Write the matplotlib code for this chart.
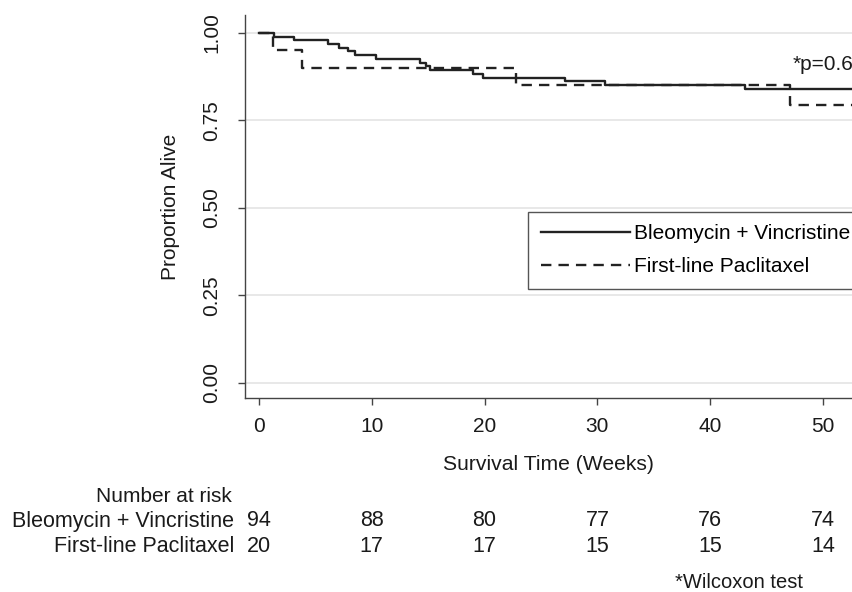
import matplotlib
matplotlib.use("Agg")
import matplotlib.pyplot as plt
from matplotlib.transforms import blended_transform_factory

plt.rcParams["font.family"] = ["Liberation Sans", "DejaVu Sans"]

# ---- data ----
bv_label = "Bleomycin + Vincristine"
bv_times = [0, 1.3, 3.1, 6.1, 7.1, 7.9, 8.5, 10.4, 14.3, 14.8, 15.2, 19.0, 19.9, 27.1, 30.7, 43.1, 56]
bv_surv = [1.0, 0.989, 0.979, 0.968, 0.957, 0.947, 0.936, 0.926, 0.915, 0.904, 0.894, 0.883, 0.872, 0.862, 0.851, 0.840, 0.840]

fp_label = "First-line Paclitaxel"
fp_times = [0, 1.2, 3.8, 22.8, 47.1, 56]
fp_surv = [1.0, 0.95, 0.90, 0.85, 0.793, 0.793]

x_ticks = [0, 10, 20, 30, 40, 50]
y_ticks = [0.00, 0.25, 0.50, 0.75, 1.00]
y_tick_labels = ["0.00", "0.25", "0.50", "0.75", "1.00"]

risk_times = [0, 10, 20, 30, 40, 50]
bv_risk = [94, 88, 80, 77, 76, 74]
fp_risk = [20, 17, 17, 15, 15, 14]

p_text = "*p=0.6"
# ---------------

W, H = 853, 592
fig = plt.figure(figsize=(W / 100, H / 100), dpi=100)
fig.patch.set_facecolor("white")
TXT = "#1a1a1a"

ax_left_px, ax_right_px, ax_top_px, ax_bot_px = 245, 879.4, 15, 398
ax_w_px = ax_right_px - ax_left_px
ax_h_px = ax_bot_px - ax_top_px
ax = fig.add_axes([ax_left_px / W, 1 - ax_bot_px / H, ax_w_px / W, ax_h_px / H])
ax.set_xlim(-1.24, 55)
ax.set_ylim(-0.043, 1.051)

for y in y_ticks:
    ax.axhline(y, color="#e8e8e8", lw=1.4, zorder=0)

ax.plot(bv_times, bv_surv, drawstyle="steps-post", color="#222222", lw=1.7, label=bv_label)
ax.plot(fp_times, fp_surv, drawstyle="steps-post", color="#222222", lw=1.7,
        dashes=(4.4, 3.0), label=fp_label)

for s in ["top", "right"]:
    ax.spines[s].set_visible(False)
for s in ["left", "bottom"]:
    ax.spines[s].set_color("#444444")
    ax.spines[s].set_linewidth(1.0)

ax.set_xticks(x_ticks)
ax.set_xticklabels([str(v) for v in x_ticks], fontsize=15)
ax.set_yticks(y_ticks)
ax.set_yticklabels(y_tick_labels, fontsize=15, rotation=90, va="center")
ax.tick_params(axis="both", colors="#444444", labelcolor=TXT, length=5, width=1.0)
ax.tick_params(axis="x", pad=9)
ax.tick_params(axis="y", pad=12)

ax.set_ylabel("Proportion Alive", fontsize=15, color=TXT)
ax.yaxis.set_label_coords(-(ax_left_px - 180) / ax_w_px, (ax_bot_px - 207) / ax_h_px)
ax.set_xlabel("Survival Time (Weeks)", fontsize=15.2, color=TXT)
ax.xaxis.set_label_coords((548 - ax_left_px) / ax_w_px, -(465 - ax_bot_px) / ax_h_px)
ax.xaxis.label.set_va("center")

leg = ax.legend(loc="upper left", bbox_to_anchor=((528 - ax_left_px) / ax_w_px,
                                                  (ax_bot_px - 212) / ax_h_px),
                borderaxespad=0, fontsize=15, handlelength=4.3, handletextpad=0.2,
                labelspacing=0.65, borderpad=0.6, fancybox=False, framealpha=1,
                edgecolor="#555555")
leg.get_frame().set_linewidth(1.0)

fig.text(793 / W, 1 - 64 / H, p_text, fontsize=15, va="center", ha="left", color=TXT)

# risk table
tr = blended_transform_factory(ax.transData, fig.transFigure)
fig.text(232 / W, 1 - 497 / H, "Number at risk", fontsize=15, ha="right", va="center", color=TXT)
fig.text(234 / W, 1 - 521 / H, bv_label, fontsize=15.5, ha="right", va="center", color=TXT)
fig.text(234 / W, 1 - 547 / H, fp_label, fontsize=15.5, ha="right", va="center", color=TXT)
for t, n in zip(risk_times, bv_risk):
    ax.text(t, 1 - 521 / H, str(n), transform=tr, fontsize=15.5, ha="center", va="center",
            color=TXT, clip_on=False)
for t, n in zip(risk_times, fp_risk):
    ax.text(t, 1 - 547 / H, str(n), transform=tr, fontsize=15.5, ha="center", va="center",
            color=TXT, clip_on=False)
fig.text(739 / W, 1 - 582 / H, "*Wilcoxon test", fontsize=14.5, ha="center", va="center", color=TXT)

fig.savefig("out.png", dpi=100)
